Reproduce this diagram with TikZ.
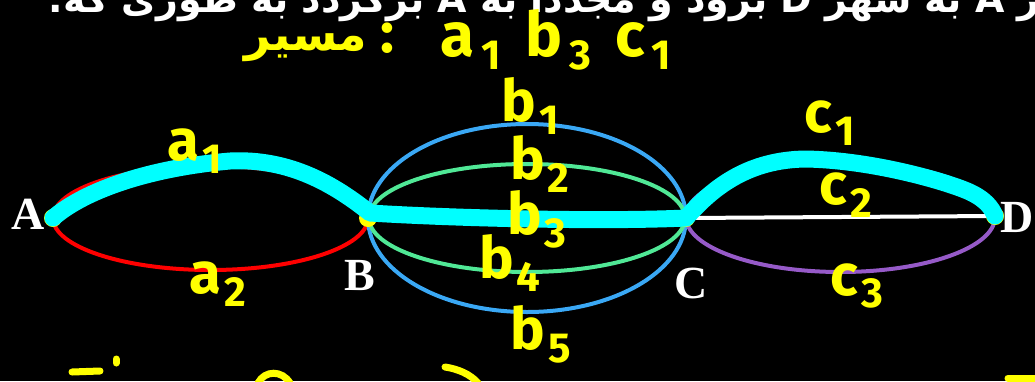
\documentclass[tikz,border=0pt]{standalone}
\usepackage{fontspec}
\setmainfont{Liberation Serif}
\newfontfamily\handfont{Fira Sans}
\newfontfamily\arabicfont[Script=Arabic]{DejaVu Sans}
\TeXXeTstate=1
\usetikzlibrary{calc}
\definecolor{RoadRed}{RGB}{255,0,0}
\definecolor{RoadBlue}{RGB}{58,168,245}
\definecolor{RoadGreen}{RGB}{80,232,150}
\definecolor{RoadPurple}{RGB}{150,90,200}
\definecolor{TourCyan}{RGB}{0,255,255}
\definecolor{InkYellow}{RGB}{255,255,0}
\newcommand{\ix}[1]{\kern3pt\raisebox{-0.22em}{\fontsize{42}{42}\selectfont #1}}

\begin{document}
\begin{tikzpicture}[x=1pt,y=-1pt,
    road/.style={line width=4pt},
    tour/.style={draw=TourCyan, line width=17pt, line cap=round, line join=round},
    city/.style={text=white, inner sep=0pt, font=\bfseries\fontsize{46}{46}\selectfont},
    hand/.style={text=InkYellow, inner sep=0pt, font=\handfont\bfseries\fontsize{58}{58}\selectfont},
    ink/.style={draw=InkYellow, line width=7pt, line cap=round}]
    \fill[black] (0,0) rectangle (1035,381);
    \useasboundingbox (0,0) rectangle (1035,381);

    \coordinate (A) at (53,218);
    \coordinate (B) at (368,218);
    \coordinate (C) at (686,218);
    \coordinate (D) at (995,216);

    % roads
    \draw[road, RoadRed] ($(A)!0.5!(B)$) ellipse [x radius=157.5pt, y radius=52pt];
    \draw[road, RoadBlue] ($(B)!0.5!(C)$) ellipse [x radius=159pt, y radius=94pt];
    \draw[road, RoadGreen] ($(B)!0.5!(C)$) ellipse [x radius=158pt, y radius=54pt];
    \draw[road, RoadPurple] ($(C)!0.5!(D)$) ellipse [x radius=154.5pt, y radius=55pt];
    \draw[road, white] (C) -- (D);

    \foreach \p in {A,B,C,D}
        \fill[InkYellow] (\p) circle [radius=9pt];

    % chosen route
    \coordinate (a1top) at (230,161);
    \coordinate (c1top) at (805,159);
    \draw[tour] (A) .. controls (85,190) and (150,168) .. (a1top)
        .. controls (290,158) and (335,185) .. (370,213)
        .. controls (450,218) and (600,222) .. (C)
        .. controls (715,185) and (750,160) .. (c1top)
        .. controls (870,160) and (940,180) .. (965,190)
        .. controls (985,198) and (992,208) .. (D);

    \node[city] (lA) at (28,214) {A};
    \node[city] (lB) at (360,275) {B};
    \node[city] (lC) at (691,283) {C};
    \node[city] (lD) at (1017,217) {D};

    \node[hand] (a1) at (195,151) {a\ix{1}};
    \node[hand] (a2) at (218,284) {a\ix{2}};
    \node[hand] (b1) at (530,106) {b\ix{1}};
    \node[hand] (b2) at (540,164) {b\ix{2}};
    \node[hand] (b3) at (537,219) {b\ix{3}};
    \node[hand] (b4) at (510,263) {b\ix{4}};
    \node[hand] (b5) at (541,334) {b\ix{5}};
    \node[hand] (c1) at (830,123) {c\ix{1}};
    \node[hand] (c2) at (846,195) {c\ix{2}};
    \node[hand] (c3) at (857,286) {c\ix{3}};

    % note at the top
    \node[text=white, anchor=base east, inner sep=0pt, font=\arabicfont\bfseries\fontsize{38}{38}\selectfont] (task) at (1040,12)
        {\beginR ر A به شهر D برود و مجدداً به A برگردد به طوری که.\endR};
    \node[hand, font=\arabicfont\bfseries\fontsize{46}{46}\selectfont] (path) at (306,48) {\beginR مسیر\endR};
    \node[hand] (colon) at (387,38) {:};
    \node[hand, font=\handfont\bfseries\fontsize{62}{62}\selectfont] (route) at (556,40)
        {a\kern4pt\ix{1}\kern24pt b\kern4pt\ix{3}\kern24pt c\kern4pt\ix{1}};

    % bits of the next line
    \draw[ink] (72,372) -- (100,371);
    \draw[ink] (116,359) -- (116,363);
    \draw[ink] (258,383) .. controls (265,370) and (282,370) .. (290,383);
    \draw[ink] (445,367) .. controls (458,369) and (470,374) .. (478,383);
    \draw[ink] (1008,378) -- (1035,378);
\end{tikzpicture}
\end{document}
